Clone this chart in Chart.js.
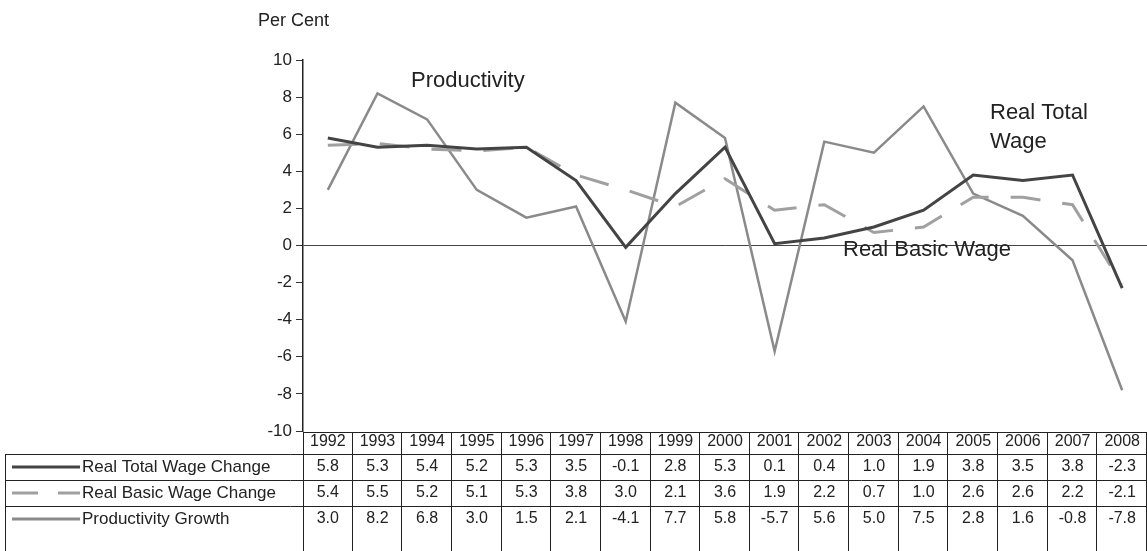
<!DOCTYPE html>
<html>
<head>
<meta charset="utf-8">
<script src="https://cdn.jsdelivr.net/npm/chart.js@4"></script>
<style>
  html, body { margin: 0; padding: 0; background: #fff; }
  #wrap { width: 1147px; height: 551px; }
</style>
</head>
<body>
<div id="wrap"><canvas id="chart" width="1147" height="551"></canvas></div>
<script>
const years = ["1992", "1993", "1994", "1995", "1996", "1997", "1998", "1999", "2000",
               "2001", "2002", "2003", "2004", "2005", "2006", "2007", "2008"];
const realTotalWage = [5.8, 5.3, 5.4, 5.2, 5.3, 3.5, -0.1, 2.8, 5.3, 0.1, 0.4, 1.0, 1.9, 3.8, 3.5, 3.8, -2.3];
const realBasicWage = [5.4, 5.5, 5.2, 5.1, 5.3, 3.8, 3.0, 2.1, 3.6, 1.9, 2.2, 0.7, 1.0, 2.6, 2.6, 2.2, -2.1];
const productivity = [3.0, 8.2, 6.8, 3.0, 1.5, 2.1, -4.1, 7.7, 5.8, -5.7, 5.6, 5.0, 7.5, 2.8, 1.6, -0.8, -7.8];
const rowNames = ["Real Total Wage Change", "Real Basic Wage Change", "Productivity Growth"];

const FONT = "'Liberation Sans', Arial, sans-serif";
const totalColor = "#444444";
const basicColor = "#a0a0a0";
const prodColor = "#8a8a8a";

// data table under the plot plus the free text labels
const tablePlugin = {
    id: "dataTable",
    afterDraw(chart) {
        const ctx = chart.ctx;
        const x = chart.scales.x;
        const area = chart.chartArea;
        const colW = (area.right - area.left) / years.length;
        const rowTops = [area.bottom + 1, 454, 480, 506];
        const rowBottom = 551;
        const rows = [realTotalWage, realBasicWage, productivity];

        ctx.save();
        ctx.strokeStyle = "#222";
        ctx.lineWidth = 1;
        // horizontal lines
        ctx.beginPath();
        ctx.moveTo(area.left, rowTops[0] + 0.5);
        ctx.lineTo(area.right, rowTops[0] + 0.5);
        for (let r = 1; r < rowTops.length; r++) {
            ctx.moveTo(5, rowTops[r] + 0.5);
            ctx.lineTo(area.right, rowTops[r] + 0.5);
        }
        // left box and axis continuation
        ctx.moveTo(5.5, rowTops[1]);
        ctx.lineTo(5.5, rowBottom);
        ctx.moveTo(area.left + 0.5, rowTops[0]);
        ctx.lineTo(area.left + 0.5, rowBottom);
        // column separators
        for (let i = 1; i <= years.length; i++) {
            const px = Math.round(area.left + i * colW) - 0.5;
            ctx.moveTo(px, rowTops[0]);
            ctx.lineTo(px, rowBottom);
        }
        ctx.stroke();

        ctx.fillStyle = "#222";
        ctx.font = "16px " + FONT;
        ctx.textAlign = "center";
        ctx.textBaseline = "middle";
        years.forEach((y, i) => {
            ctx.fillText(y, x.getPixelForValue(i), 442);
        });
        const centers = [467, 493, 519];
        rows.forEach((vals, r) => {
            vals.forEach((v, i) => {
                ctx.fillText(v.toFixed(1), x.getPixelForValue(i), centers[r]);
            });
        });

        // legend samples
        ctx.lineWidth = 3;
        ctx.strokeStyle = totalColor;
        ctx.beginPath(); ctx.moveTo(12, centers[0]); ctx.lineTo(80, centers[0]); ctx.stroke();
        ctx.strokeStyle = basicColor;
        ctx.beginPath(); ctx.moveTo(12, centers[1]); ctx.lineTo(38, centers[1]);
        ctx.moveTo(58, centers[1]); ctx.lineTo(80, centers[1]); ctx.stroke();
        ctx.strokeStyle = prodColor;
        ctx.beginPath(); ctx.moveTo(12, centers[2]); ctx.lineTo(80, centers[2]); ctx.stroke();

        ctx.textAlign = "left";
        ctx.font = "17px " + FONT;
        rowNames.forEach((n, r) => ctx.fillText(n, 82, centers[r]));

        // annotations
        ctx.font = "18px " + FONT;
        ctx.fillText("Per Cent", 258, 21);
        ctx.font = "22px " + FONT;
        ctx.fillText("Productivity", 411, 81);
        ctx.fillText("Real Total", 990, 113);
        ctx.fillText("Wage", 990, 142);
        ctx.fillText("Real Basic Wage", 843, 250);
        ctx.restore();
    }
};

new Chart(document.getElementById("chart"), {
    type: "line",
    data: {
        labels: years,
        datasets: [{
            label: "Real Total Wage Change",
            data: realTotalWage,
            borderColor: totalColor,
            borderWidth: 3,
            pointRadius: 0,
            tension: 0
        }, {
            label: "Real Basic Wage Change",
            data: realBasicWage,
            borderColor: basicColor,
            borderWidth: 3,
            borderDash: [30, 22],
            pointRadius: 0,
            tension: 0
        }, {
            label: "Productivity Growth",
            data: productivity,
            borderColor: prodColor,
            borderWidth: 2.5,
            pointRadius: 0,
            tension: 0
        }]
    },
    options: {
        responsive: false,
        animation: false,
        layout: { padding: { top: 60, bottom: 120, left: 0, right: 0 } },
        plugins: { legend: { display: false }, tooltip: { enabled: false } },
        scales: {
            x: {
                type: "category",
                display: false,
                offset: true
            },
            y: {
                min: -10,
                max: 10,
                afterFit: (s) => { s.width = 303; },
                ticks: {
                    stepSize: 2,
                    color: "#222",
                    padding: 4,
                    font: { family: FONT, size: 17 }
                },
                grid: {
                    color: (c) => c.tick && c.tick.value === 0 ? "#444" : "rgba(0,0,0,0)",
                    tickColor: "#333",
                    tickLength: 7,
                    lineWidth: 1
                },
                border: { display: true, color: "#222", width: 1.5 }
            }
        }
    },
    plugins: [tablePlugin]
});
</script>
</body>
</html>
